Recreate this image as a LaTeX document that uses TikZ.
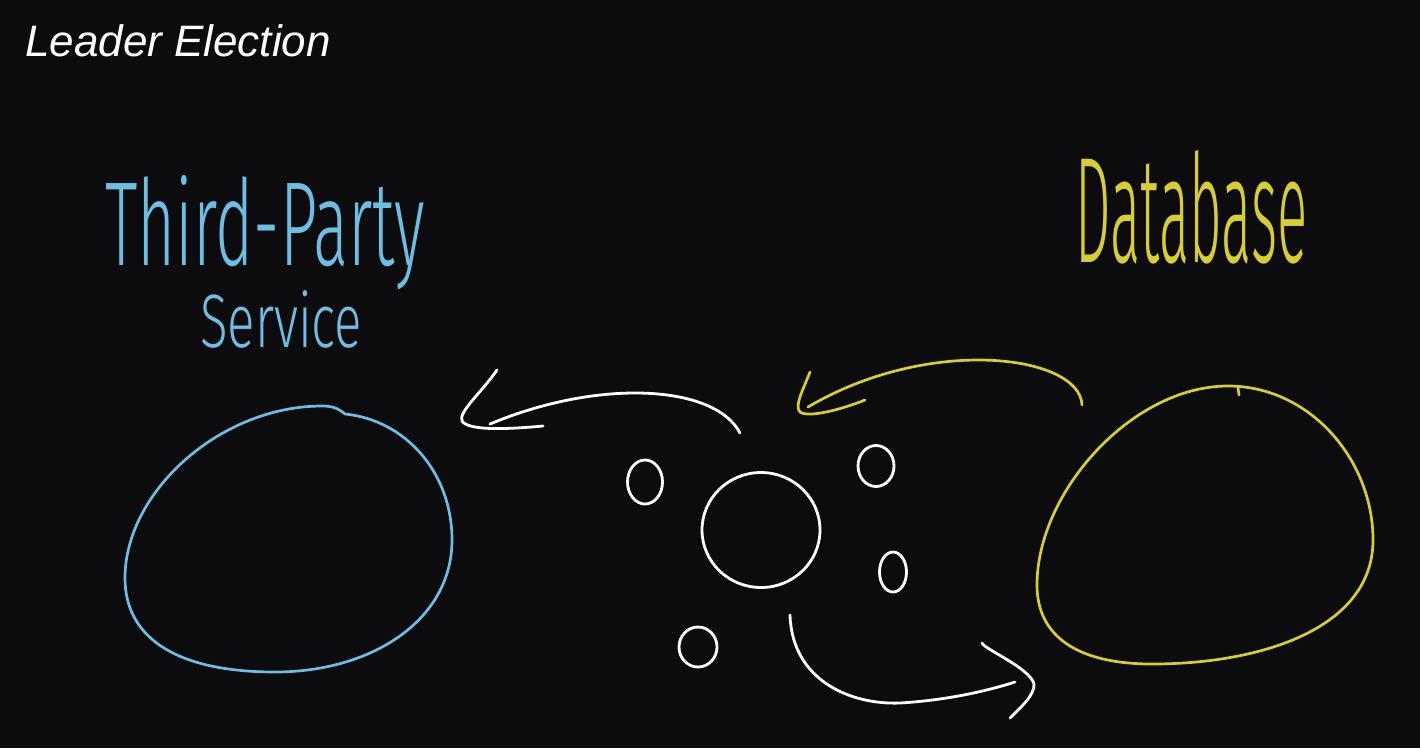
\documentclass[tikz,border=0pt]{standalone}
\usepackage{fontspec}
\setmainfont{Liberation Sans}
\newfontfamily\titlefont{Liberation Sans}
\newfontfamily\handfont{Fira Sans Light}
\usetikzlibrary{shapes.geometric}
\definecolor{bg}{RGB}{12,11,14}
\definecolor{inkblue}{RGB}{108,190,226}
\definecolor{inkyellow}{RGB}{216,206,48}
\tikzset{
  pen/.style={line width=2.8pt, line cap=round, line join=round},
  whitepen/.style={pen, draw=white},
  bluepen/.style={pen, draw=inkblue, line width=2.7pt},
  yellowpen/.style={pen, draw=inkyellow, line width=2.7pt},
  dot/.style={ellipse, draw=white, line width=2.8pt, inner sep=0pt},
  handtext/.style={inner sep=0pt, anchor=base west},
}
\begin{document}
\begin{tikzpicture}[x=1pt,y=-1pt]
\fill[bg] (0,0) rectangle (1420,748);
\useasboundingbox (0,0) rectangle (1420,748);

% title
\node[inner sep=0pt, anchor=base west, text=white] (title) at (25,56)
  {\titlefont\itshape\fontsize{44}{50}\selectfont Leader Election};

% handwritten labels
\node[handtext, text=inkblue] (tp) at (105,265)
  {\resizebox{320pt}{90pt}{\handfont Third-Party}};
\node[handtext, text=inkblue] (svc) at (200,347)
  {\resizebox{162pt}{57pt}{\handfont Service}};
\node[handtext, text=inkyellow] (db) at (1075,262)
  {\resizebox{232pt}{112pt}{\handfont Database}};

% blue blob (third-party service)
\draw[bluepen] (322,406) .. controls (332,406) and (338,408) .. (345,414)
  .. controls (405,420) and (452,472) .. (452,540)
  .. controls (452,620) and (372,672) .. (275,672)
  .. controls (180,672) and (125,640) .. (125,578)
  .. controls (125,492) and (220,406) .. cycle;

% yellow blob (database)
\draw[yellowpen] (1228,386) .. controls (1310,386) and (1373,460) .. (1373,540)
  .. controls (1373,628) and (1262,664) .. (1152,664)
  .. controls (1080,664) and (1037,638) .. (1037,585)
  .. controls (1037,492) and (1132,386) .. cycle;
\draw[yellowpen] (1238,388) -- (1239,395);

% nodes
\node[dot, minimum width=118pt, minimum height=115pt] (leader) at (761,530) {};
\node[dot, minimum width=35pt, minimum height=44pt] (n1) at (645,482) {};
\node[dot, minimum width=36pt, minimum height=41pt] (n2) at (876,466) {};
\node[dot, minimum width=27pt, minimum height=40pt] (n3) at (893,572) {};
\node[dot, minimum width=38pt, minimum height=40pt] (n4) at (698,647) {};

% arrow to third-party service
\coordinate (a1s) at (740,433);
\coordinate (a1e) at (490,424);
\draw[whitepen] (a1s) .. controls (715,385) and (600,378) .. (a1e);
\coordinate (a1h1) at (497,370);
\coordinate (a1h2) at (543,426);
\draw[whitepen] (a1h1) .. controls (482,392) and (458,412) .. (462,421)
  .. controls (468,430) and (500,430) .. (a1h2);

% yellow arrow from database
\coordinate (a2s) at (1082,405);
\coordinate (a2e) at (808,407);
\draw[yellowpen] (a2s) .. controls (1080,355) and (930,335) .. (a2e);
\coordinate (a2h1) at (810,372);
\coordinate (a2h2) at (865,400);
\draw[yellowpen] (a2h1) .. controls (803,390) and (794,406) .. (800,412)
  .. controls (808,418) and (840,410) .. (a2h2);

% arrow to database
\coordinate (a3s) at (790,615);
\coordinate (a3e) at (1015,682);
\draw[whitepen] (a3s) .. controls (792,680) and (850,705) .. (900,703)
  .. controls (950,700) and (990,690) .. (a3e);
\coordinate (a3h1) at (982,643);
\coordinate (a3h2) at (1010,718);
\draw[whitepen] (a3h1) .. controls (984,649) and (1030,668) .. (1034,684)
  .. controls (1035,695) and (1020,708) .. (a3h2);
\end{tikzpicture}
\end{document}
